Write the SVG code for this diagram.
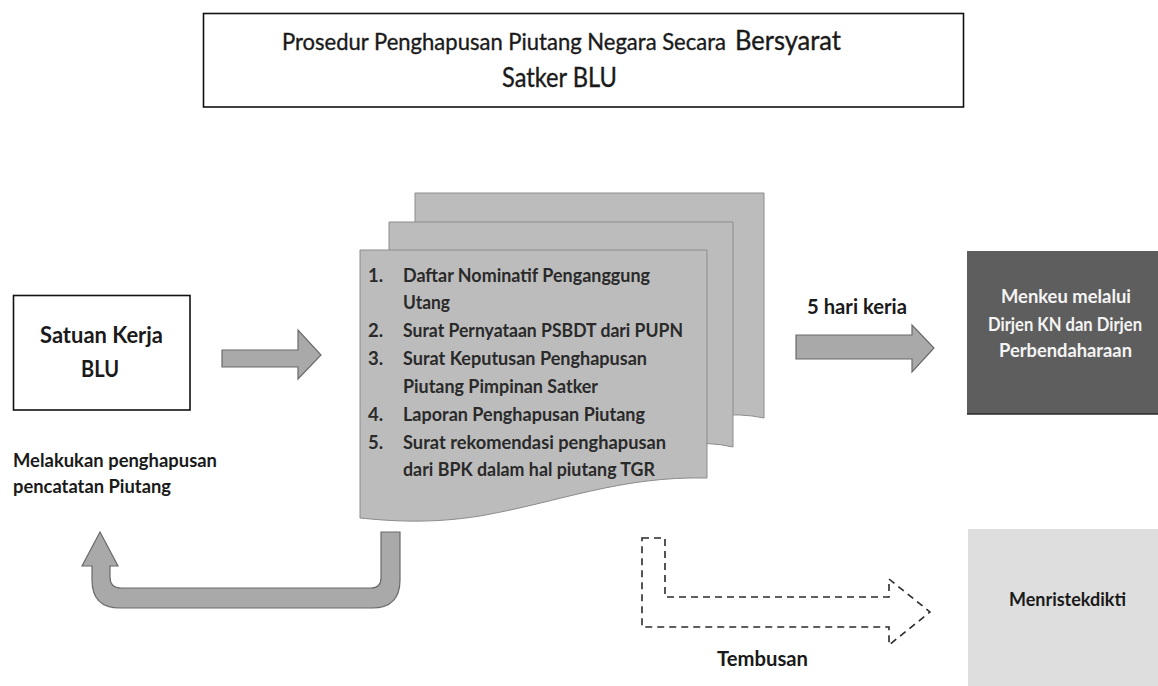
<svg xmlns="http://www.w3.org/2000/svg" width="1158" height="686" viewBox="0 0 1158 686">
<style>
.t{font-family:Lato,"Open Sans","Liberation Sans",sans-serif;fill:#1a1a1a}
.b{font-weight:bold}
.h{stroke:#1a1a1a;stroke-width:0.35}
.doc{fill:#bcbcbc;stroke:#8c8c8c;stroke-width:1}
.list{font-family:Lato,"Open Sans","Liberation Sans",sans-serif;font-weight:bold;font-size:18.5px;fill:#2a2a2a}
.arr{fill:#a9a9a9;stroke:#6a6a6a;stroke-width:1.2}
.box{fill:#fff;stroke:#111;stroke-width:1.6}
</style>
<rect width="1158" height="686" fill="#fff"/>

<g id="title">
<rect class="box" x="203.5" y="13.5" width="760" height="93.5"/>
<text class="t h" x="282" y="50" font-size="22.5" textLength="444" lengthAdjust="spacingAndGlyphs">Prosedur Penghapusan Piutang Negara Secara</text>
<text class="t h" x="735" y="50" font-size="26" textLength="106" lengthAdjust="spacingAndGlyphs">Bersyarat</text>
<text class="t h" x="502" y="87" font-size="26" textLength="115" lengthAdjust="spacingAndGlyphs">Satker BLU</text>
</g>

<g id="satker">
<rect class="box" x="13.5" y="295.5" width="176.5" height="114.5"/>
<text class="t b" x="40" y="343" font-size="23" textLength="123" lengthAdjust="spacingAndGlyphs">Satuan Kerja</text>
<text class="t b" x="81" y="377" font-size="23" textLength="38" lengthAdjust="spacingAndGlyphs">BLU</text>
</g>

<g id="note">
<text class="t b" x="13" y="467" font-size="18.5" textLength="204" lengthAdjust="spacingAndGlyphs">Melakukan penghapusan</text>
<text class="t b" x="13" y="493" font-size="18.5" textLength="158" lengthAdjust="spacingAndGlyphs">pencatatan Piutang</text>
</g>

<g id="documents">
<path class="doc" fill="#c3c3c3" d="M415,193 H764 V418 C700,404 620,440 560,455 C500,470 450,462 415,460 Z"/>
<path class="doc" d="M389,222 H733 V447 C670,432 600,470 540,485 C480,500 430,492 389,490 Z"/>
<path class="doc" d="M360,250 H707 V478 C620,476 560,502 480,516 C430,524 390,521 360,518 Z"/>
<g class="list">
<text x="368" y="282">1.</text>
<text x="403" y="282" textLength="247" lengthAdjust="spacingAndGlyphs">Daftar Nominatif Penganggung</text>
<text x="403" y="309" textLength="47" lengthAdjust="spacingAndGlyphs">Utang</text>
<text x="368" y="337">2.</text>
<text x="403" y="337" textLength="280" lengthAdjust="spacingAndGlyphs">Surat Pernyataan PSBDT dari PUPN</text>
<text x="368" y="365">3.</text>
<text x="403" y="365" textLength="244" lengthAdjust="spacingAndGlyphs">Surat Keputusan Penghapusan</text>
<text x="403" y="393" textLength="195" lengthAdjust="spacingAndGlyphs">Piutang Pimpinan Satker</text>
<text x="368" y="421">4.</text>
<text x="403" y="421" textLength="242" lengthAdjust="spacingAndGlyphs">Laporan Penghapusan Piutang</text>
<text x="368" y="449">5.</text>
<text x="403" y="449" textLength="263" lengthAdjust="spacingAndGlyphs">Surat rekomendasi penghapusan</text>
<text x="403" y="476" textLength="252" lengthAdjust="spacingAndGlyphs">dari BPK dalam hal piutang TGR</text>
</g>
</g>

<g id="menkeu">
<rect x="967" y="251" width="191" height="163" fill="#5e5e5e"/>
<line x1="967" y1="414" x2="1158" y2="414" stroke="#2a2a2a" stroke-width="1.5"/>
<g class="t b" font-size="18.5" style="fill:#f4f4f4">
<text x="1001" y="303" textLength="130" lengthAdjust="spacingAndGlyphs">Menkeu melalui</text>
<text x="988" y="331" textLength="154" lengthAdjust="spacingAndGlyphs">Dirjen KN dan Dirjen</text>
<text x="999" y="357" textLength="133" lengthAdjust="spacingAndGlyphs">Perbendaharaan</text>
</g>
</g>

<g id="menristekdikti">
<rect x="968" y="529" width="190" height="157" fill="#dedede"/>
<text class="t b" x="1009" y="606" font-size="19" textLength="117" lengthAdjust="spacingAndGlyphs">Menristekdikti</text>
</g>

<g id="connectors">
<path class="arr" d="M222,350 H298 V330 L321,355 L298,379 V367 H222 Z"/>
<path class="arr" d="M796,335 H912 V325 L934,348 L912,372 V359 H796 Z"/>
<path class="arr" d="M381,532 H400 V580 Q400,608 372,608 H120 Q92,608 92,580 V566 H82 L100,532 L118,566 H110 V577 Q110,588 121,588 H371 Q381,588 381,578 Z"/>
<path d="M642,538 H665 V597 H889 V579 L930,612 L889,645 V627 H642 Z" fill="none" stroke="#2a2a2a" stroke-width="1.6" stroke-dasharray="7 5"/>
<text class="t b" x="807" y="314" font-size="20" textLength="100" lengthAdjust="spacingAndGlyphs">5 hari keria</text>
<text class="t b" x="717" y="666" font-size="20" textLength="91" lengthAdjust="spacingAndGlyphs">Tembusan</text>
</g>
</svg>
